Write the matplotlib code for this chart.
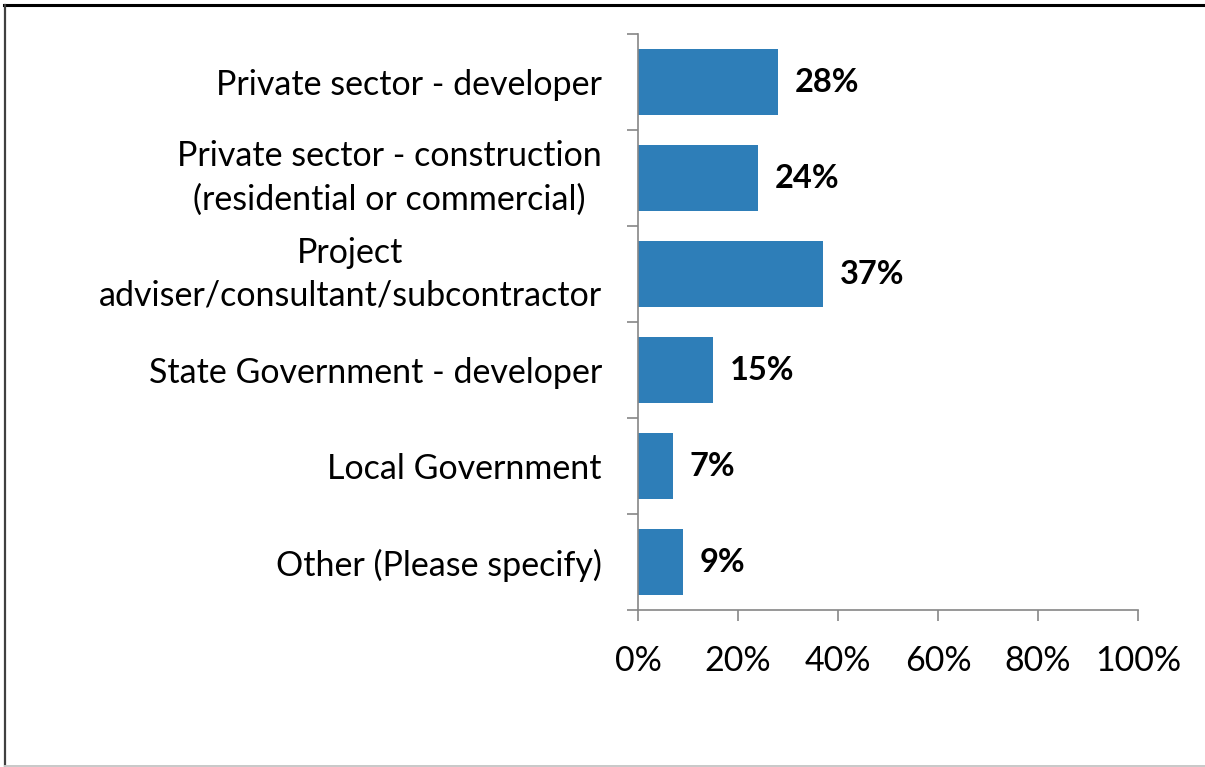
import matplotlib
matplotlib.use("Agg")
import matplotlib.pyplot as plt
from matplotlib.lines import Line2D
import numpy as np

categories = [
    "Private sector - developer",
    "Private sector - construction\n(residential or commercial)",
    "Project\nadviser/consultant/subcontractor",
    "State Government - developer",
    "Local Government",
    "Other (Please specify)",
]
values = [28, 24, 37, 15, 7, 9]
xticks = [0, 20, 40, 60, 80, 100]
xtick_labels = ["0%", "20%", "40%", "60%", "80%", "100%"]

plt.rcParams["font.family"] = ["Lato", "DejaVu Sans"]

W, H = 1205, 767
fig = plt.figure(figsize=(W / 100, H / 100), dpi=100)
fig.patch.set_facecolor("white")

ax = fig.add_axes([638 / W, 1 - 610 / H, 500 / W, 576 / H])

bar_color = "#2E7EB8"
axis_color = "#868686"
n = len(categories)
ypos = np.arange(n)
ax.barh(ypos, values, height=0.68, color=bar_color, zorder=2)

ax.set_xlim(0, 100)
ax.set_ylim(n - 0.5, -0.5)

for y, v in zip(ypos, values):
    ax.annotate(f"{v}%", xy=(v, y), xytext=(12, 0), textcoords="offset points",
                ha="left", va="center", fontsize=23.5, fontweight="bold",
                color="black")

# category labels at bar centres, tick marks at category boundaries
ax.set_yticks(ypos)
ax.set_yticklabels(categories, fontsize=24.5, multialignment="center",
                   linespacing=1.42)
for lbl in ax.get_yticklabels():
    if "\n" in lbl.get_text():
        lbl.set_va("center")
ax.set_yticks(np.arange(-0.5, n, 1.0), minor=True)
ax.tick_params(axis="y", which="major", length=0, pad=26)
ax.tick_params(axis="y", which="minor", length=8, width=1.2, color=axis_color,
               direction="out")

ax.set_xticks(xticks)
ax.set_xticklabels(xtick_labels, fontsize=24.5)
ax.tick_params(axis="x", which="major", length=8, width=1.2, color=axis_color,
               direction="out", pad=17)

for side in ("top", "right"):
    ax.spines[side].set_visible(False)
for side in ("left", "bottom"):
    ax.spines[side].set_color(axis_color)
    ax.spines[side].set_linewidth(1.2)

# chart-area frame
fig.add_artist(Line2D([4 / W, 1.0], [1 - 5 / H, 1 - 5 / H], transform=fig.transFigure,
                      color="black", linewidth=2.2))
fig.add_artist(Line2D([5 / W, 5 / W], [1 - 5 / H, 1 - 766 / H], transform=fig.transFigure,
                      color="#404040", linewidth=1.6))
fig.add_artist(Line2D([5 / W, 1.0], [1 - 766 / H, 1 - 766 / H], transform=fig.transFigure,
                      color="#c8c8c8", linewidth=1.4))

fig.savefig("out.png", dpi=100, facecolor="white")
